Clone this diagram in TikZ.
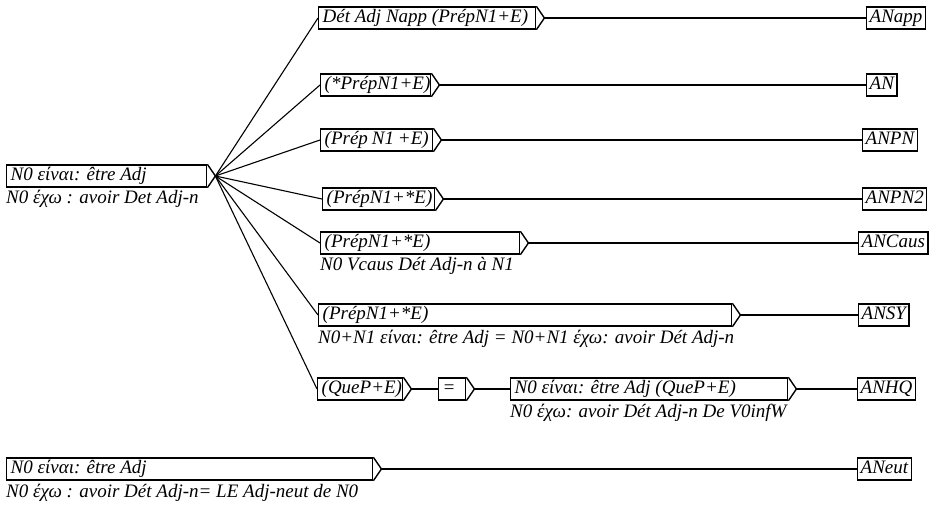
\documentclass[tikz,border=0pt]{standalone}
\usepackage{fontspec}
\setmainfont{Liberation Serif}
\usepackage{tikz}
\newcommand{\grafe}{\itshape\fontsize{19}{21}\selectfont}
\tikzset{
  boite/.style={draw, line width=1.4pt, rectangle, anchor=west, inner xsep=4pt, inner ysep=1.5pt,
    text height=14pt, text depth=5pt, font=\grafe,
    execute at begin node={\hbox to \dimexpr#1pt-8pt\relax\bgroup},
    execute at end node={\hfil\egroup},
    append after command={\pgfextra{\draw[line width=1.4pt, line join=miter] (\tikzlastnode.north east)
      -- ([xshift=8pt]\tikzlastnode.east) -- (\tikzlastnode.south east);
      \coordinate (\tikzlastnode-p) at ([xshift=8pt]\tikzlastnode.east);}}},
  sortie/.style={draw, line width=1.4pt, anchor=west, inner xsep=3pt, inner ysep=1.5pt,
    text height=14pt, text depth=5pt, font=\grafe},
  legende/.style={anchor=west, inner sep=0pt, font=\grafe},
  lien/.style={line width=1.1pt}
}

\begin{document}
\begin{tikzpicture}[x=1pt, y=-1pt]
        \useasboundingbox (0,0) rectangle (937,506);
        % entree du graphe
        \node[boite=200] (adj) at (6,176) {N0 είναι: être Adj};
        \node[legende] (adjl) at (6,199) {N0 έχω : avoir Det Adj-n};
        % branches
        \node[boite=217] (napp) at (318,18) {Dét Adj Napp (PrépN1+E)};
        \node[boite=110] (an) at (320,85) {(*PrépN1+E)};
        \node[boite=112] (anpn) at (320,140) {(Prép N1 +E)};
        \node[boite=112] (anpn2) at (322,199) {(PrépN1+*E)};
        \node[boite=199] (ancaus) at (320,243) {(PrépN1+*E)};
        \node[legende] (ancausl) at (320,266) {N0 Vcaus Dét Adj-n à N1};
        \node[boite=413] (ansy) at (318,315) {(PrépN1+*E)};
        \node[legende] (ansyl) at (318,339) {N0+N1 είναι: être Adj = N0+N1 έχω: avoir Dét Adj-n};
        \node[boite=85] (quep) at (317,389) {(QueP+E)};
        \node[boite=27] (egal) at (438,389) {=};
        \node[boite=277] (anhq) at (510,389) {N0 είναι: être Adj (QueP+E)};
        \node[legende] (anhql) at (510,413) {N0 έχω: avoir Dét Adj-n De V0infW};
        % second graphe
        \node[boite=366] (neut) at (6,469) {N0 είναι: être Adj};
        \node[legende] (neutl) at (6,493) {N0 έχω : avoir Dét Adj-n= LE Adj-neut de N0};
        % sorties
        \node[sortie] (oNapp) at (866,18) {ANapp};
        \node[sortie] (oN) at (866,85) {AN};
        \node[sortie] (oNPN) at (862,140) {ANPN};
        \node[sortie] (oNPN2) at (862,199) {ANPN2};
        \node[sortie] (oNCaus) at (858,243) {ANCaus};
        \node[sortie] (oNSY) at (858,315) {ANSY};
        \node[sortie] (oNHQ) at (857,389) {ANHQ};
        \node[sortie] (oNeut) at (857,469) {ANeut};
        % liens
        \foreach \b in {napp,an,anpn,anpn2,ancaus,ansy,quep}
            \draw[lien] (adj-p) -- (\b.west);
        \draw[lien] (napp-p) -- (oNapp.west);
        \draw[lien] (an-p) -- (oN.west);
        \draw[lien] (anpn-p) -- (oNPN.west);
        \draw[lien] (anpn2-p) -- (oNPN2.west);
        \draw[lien] (ancaus-p) -- (oNCaus.west);
        \draw[lien] (ansy-p) -- (oNSY.west);
        \draw[lien] (quep-p) -- (egal.west);
        \draw[lien] (egal-p) -- (anhq.west);
        \draw[lien] (anhq-p) -- (oNHQ.west);
        \draw[lien] (neut-p) -- (oNeut.west);
\end{tikzpicture}
\end{document}
